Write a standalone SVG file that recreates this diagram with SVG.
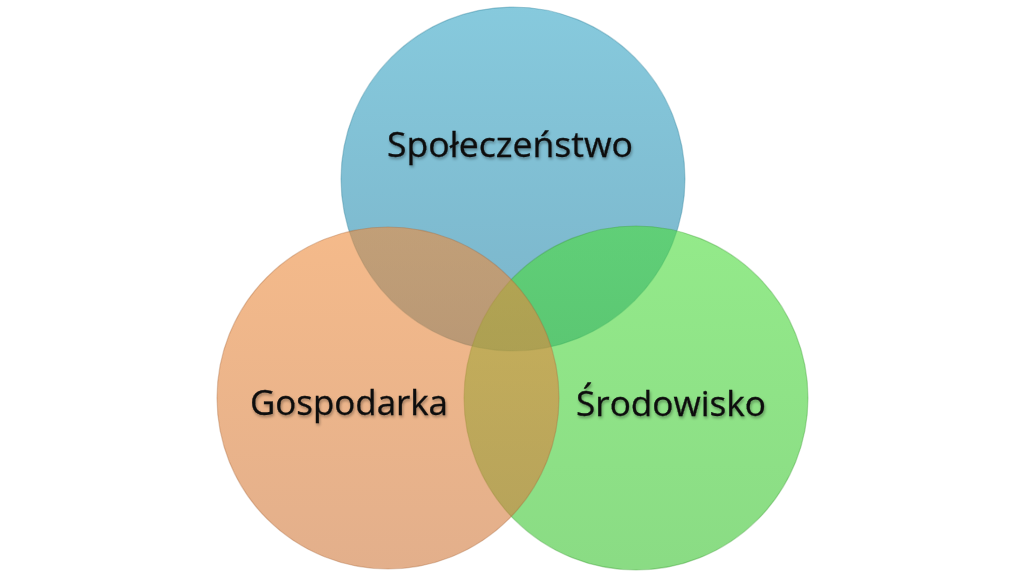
<svg xmlns="http://www.w3.org/2000/svg" width="1024" height="580" viewBox="0 0 1024 580">
  <defs>
    <linearGradient id="gBlue" x1="0" y1="0" x2="0" y2="1">
      <stop offset="0" stop-color="#36a6c6"/>
      <stop offset="1" stop-color="#2282a6"/>
    </linearGradient>
    <linearGradient id="gGreen" x1="0" y1="0" x2="0" y2="1">
      <stop offset="0" stop-color="#4cdc3c"/>
      <stop offset="1" stop-color="#3cc432"/>
    </linearGradient>
    <linearGradient id="gOrange" x1="0" y1="0" x2="0" y2="1">
      <stop offset="0" stop-color="#ee8c3c"/>
      <stop offset="1" stop-color="#d07a3e"/>
    </linearGradient>
    <filter id="tshadow" x="-10%" y="-30%" width="120%" height="160%">
      <feGaussianBlur in="SourceAlpha" stdDeviation="1.5"/>
      <feOffset dx="1" dy="2"/>
      <feComponentTransfer><feFuncA type="linear" slope="0.35"/></feComponentTransfer>
      <feMerge><feMergeNode/><feMergeNode in="SourceGraphic"/></feMerge>
    </filter>
  </defs>
  <style>
    .c { fill-opacity: 0.6; stroke-opacity: 0.35; stroke-width: 1.2; }
    .lbl { font-family: "Open Sans", "Noto Sans", "DejaVu Sans", sans-serif; font-size: 35px; fill: #111; stroke: #111; stroke-width: 0.3; filter: url(#tshadow); }
  </style>
  <rect width="1024" height="580" fill="#ffffff"/>
  <g id="circles">
    <g id="spoleczenstwo">
      <circle class="c" cx="513" cy="179" r="172" fill="url(#gBlue)" stroke="#2a7d99"/>
    </g>
    <g id="srodowisko">
      <circle class="c" cx="636" cy="398" r="172" fill="url(#gGreen)" stroke="#3a9a30"/>
    </g>
    <g id="gospodarka">
      <circle class="c" cx="388" cy="398" r="171" fill="url(#gOrange)" stroke="#a8683a"/>
    </g>
  </g>
  <g id="labels">
    <text class="lbl" x="387" y="157" textLength="246" lengthAdjust="spacingAndGlyphs">Społeczeństwo</text>
    <text class="lbl" x="250" y="415" textLength="198" lengthAdjust="spacingAndGlyphs">Gospodarka</text>
    <text class="lbl" x="576" y="416" textLength="190" lengthAdjust="spacingAndGlyphs">Środowisko</text>
  </g>
</svg>
